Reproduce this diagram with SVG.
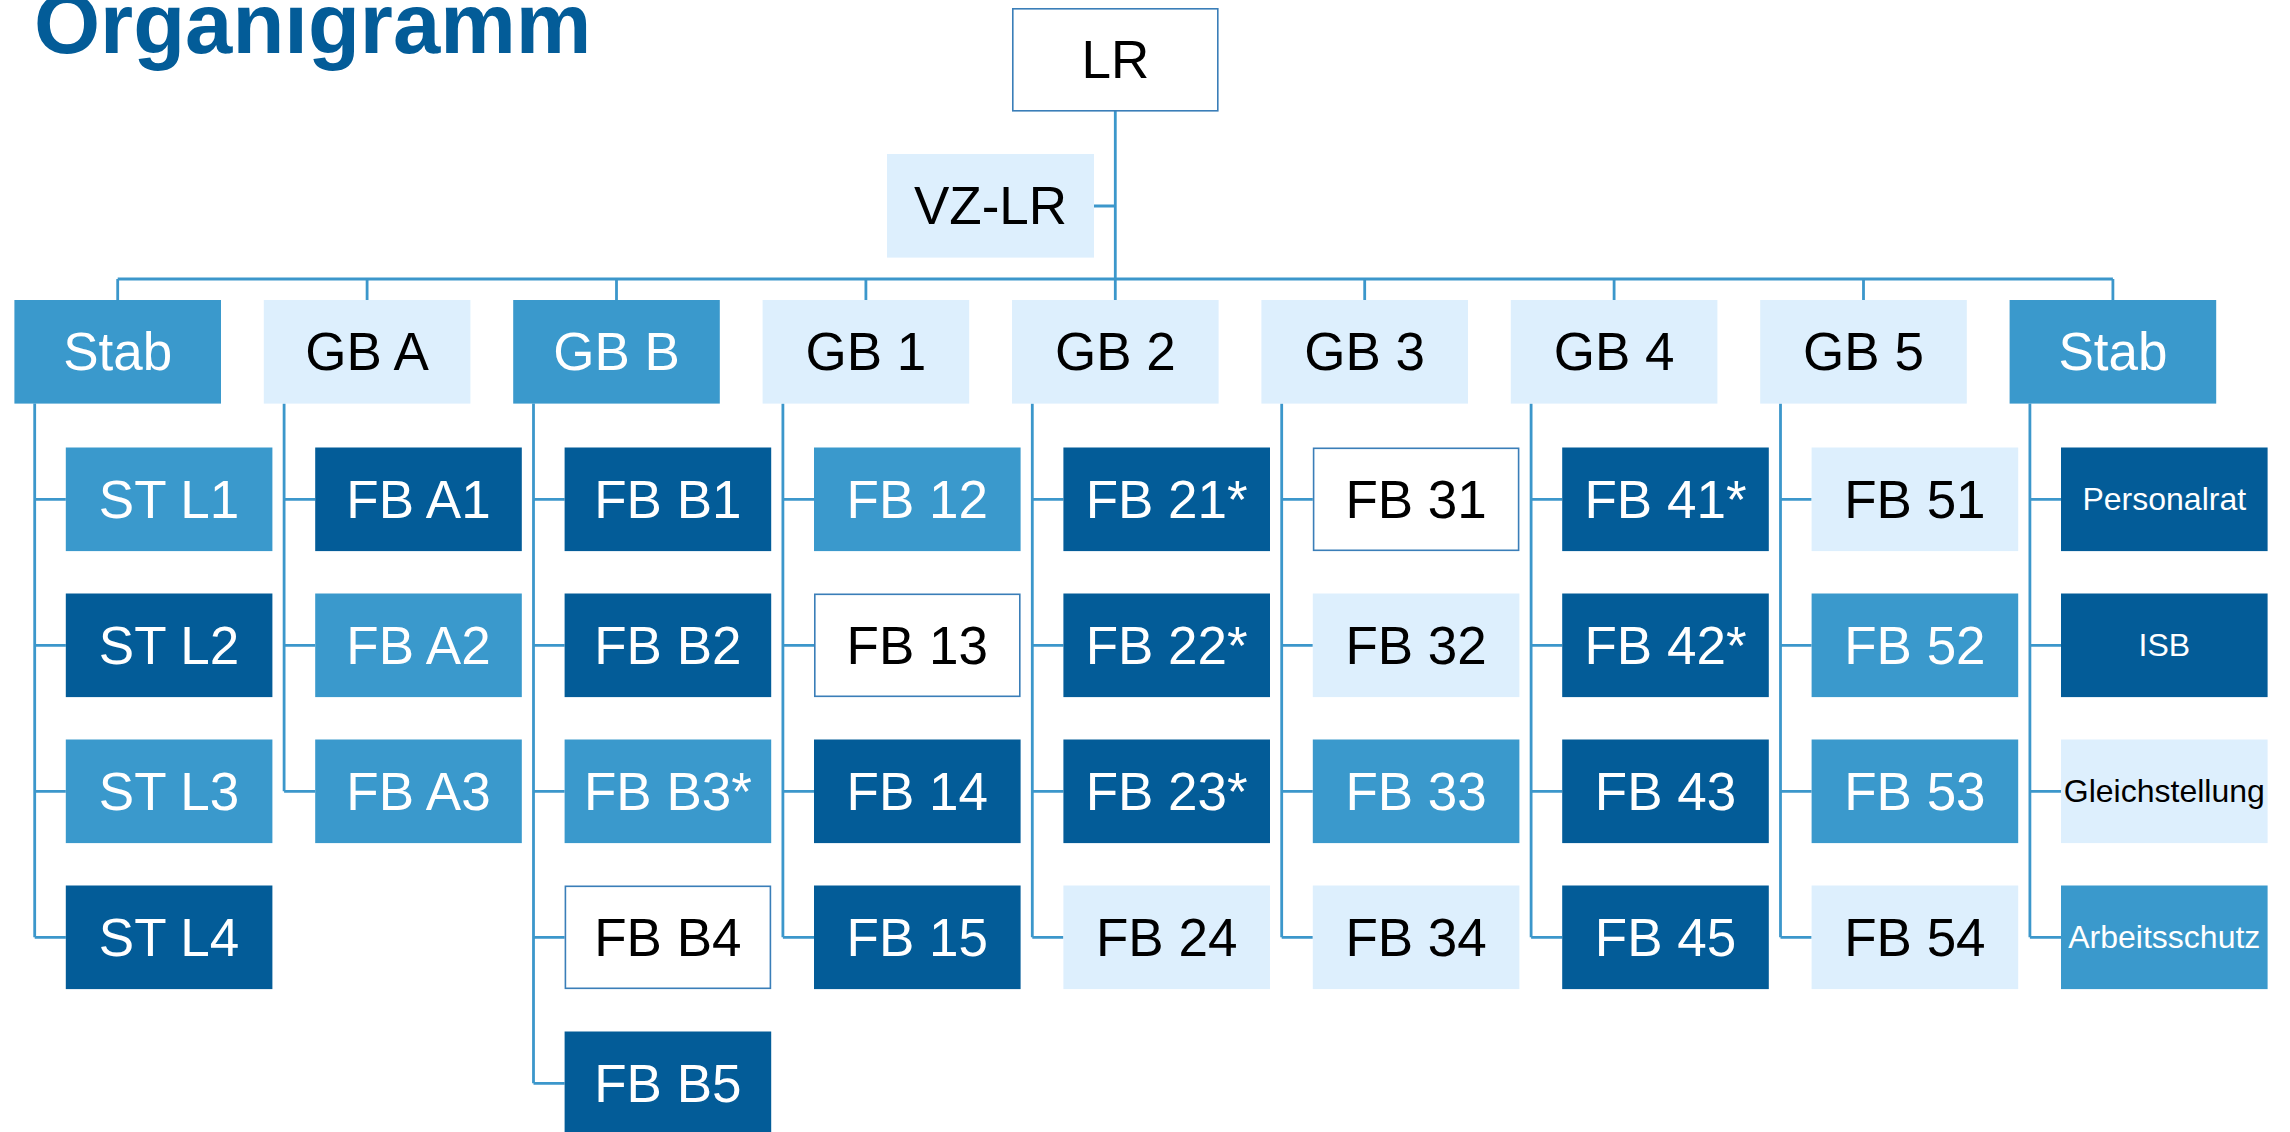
<svg xmlns="http://www.w3.org/2000/svg" width="2290" height="1132" viewBox="0 0 2290 1132">
<style>
.dk{fill:#035C98}
.md{fill:#3A99CC}
.lt{fill:#DDEFFD}
.wh{fill:#FFFFFF;stroke:#3A7EB8;stroke-width:1.6}
text{font-family:"Liberation Sans",Arial,sans-serif;text-anchor:middle}
.t{font-size:53px}
.s{font-size:32px}
.w{fill:#FFFFFF}
.b{fill:#000000}
.con path{fill:none;stroke:#3C97CB;stroke-width:2.8}
.title{font-size:85px;font-weight:bold;fill:#035C98;text-anchor:start}
</style>
<text class="title" x="34" y="53">Organigramm</text>
<g class="con">
<path d="M1115.3 111 V279 M1094 206 H1115.3"/>
<path d="M117.7 279 H2112.9 M117.7 279 V300 M367.1 279 V300 M616.5 279 V300 M865.9 279 V300 M1115.3 279 V300 M1364.7 279 V300 M1614.1 279 V300 M1863.5 279 V300 M2112.9 279 V300"/>
<path d="M34.7 403.6 V937.3 M34.7 499.3 H65.8 M34.7 645.3 H65.8 M34.7 791.3 H65.8 M34.7 937.3 H65.8"/>
<path d="M284.1 403.6 V791.3 M284.1 499.3 H315.2 M284.1 645.3 H315.2 M284.1 791.3 H315.2"/>
<path d="M533.5 403.6 V1083.3 M533.5 499.3 H564.6 M533.5 645.3 H564.6 M533.5 791.3 H564.6 M533.5 937.3 H564.6 M533.5 1083.3 H564.6"/>
<path d="M782.9 403.6 V937.3 M782.9 499.3 H814 M782.9 645.3 H814 M782.9 791.3 H814 M782.9 937.3 H814"/>
<path d="M1032.3 403.6 V937.3 M1032.3 499.3 H1063.4 M1032.3 645.3 H1063.4 M1032.3 791.3 H1063.4 M1032.3 937.3 H1063.4"/>
<path d="M1281.7 403.6 V937.3 M1281.7 499.3 H1312.8 M1281.7 645.3 H1312.8 M1281.7 791.3 H1312.8 M1281.7 937.3 H1312.8"/>
<path d="M1531.1 403.6 V937.3 M1531.1 499.3 H1562.2 M1531.1 645.3 H1562.2 M1531.1 791.3 H1562.2 M1531.1 937.3 H1562.2"/>
<path d="M1780.5 403.6 V937.3 M1780.5 499.3 H1811.6 M1780.5 645.3 H1811.6 M1780.5 791.3 H1811.6 M1780.5 937.3 H1811.6"/>
<path d="M2029.9 403.6 V937.3 M2029.9 499.3 H2061 M2029.9 645.3 H2061 M2029.9 791.3 H2061 M2029.9 937.3 H2061"/>
</g>
<g id="LR"><rect class="wh" x="1012.8" y="8.8" width="205" height="102"/><text class="t b" x="1115.3" y="78">LR</text></g>
<g id="VZ-LR"><rect class="lt" x="887" y="154" width="207" height="103.6"/><text class="t b" x="990.5" y="224">VZ-LR</text></g>

<g id="Stab1"><rect class="md" x="14.4" y="300" width="206.6" height="103.6"/><text class="t w" x="117.7" y="370">Stab</text></g>
<g id="GBA"><rect class="lt" x="263.8" y="300" width="206.6" height="103.6"/><text class="t b" x="367.1" y="370">GB A</text></g>
<g id="GBB"><rect class="md" x="513.2" y="300" width="206.6" height="103.6"/><text class="t w" x="616.5" y="370">GB B</text></g>
<g id="GB1"><rect class="lt" x="762.6" y="300" width="206.6" height="103.6"/><text class="t b" x="865.9" y="370">GB 1</text></g>
<g id="GB2"><rect class="lt" x="1012" y="300" width="206.6" height="103.6"/><text class="t b" x="1115.3" y="370">GB 2</text></g>
<g id="GB3"><rect class="lt" x="1261.4" y="300" width="206.6" height="103.6"/><text class="t b" x="1364.7" y="370">GB 3</text></g>
<g id="GB4"><rect class="lt" x="1510.8" y="300" width="206.6" height="103.6"/><text class="t b" x="1614.1" y="370">GB 4</text></g>
<g id="GB5"><rect class="lt" x="1760.2" y="300" width="206.6" height="103.6"/><text class="t b" x="1863.5" y="370">GB 5</text></g>
<g id="Stab2"><rect class="md" x="2009.6" y="300" width="206.6" height="103.6"/><text class="t w" x="2112.9" y="370">Stab</text></g>

<g id="STL1"><rect class="md" x="65.8" y="447.5" width="206.6" height="103.6"/><text class="t w" x="169.1" y="517.5">ST L1</text></g>
<g id="STL2"><rect class="dk" x="65.8" y="593.5" width="206.6" height="103.6"/><text class="t w" x="169.1" y="663.5">ST L2</text></g>
<g id="STL3"><rect class="md" x="65.8" y="739.5" width="206.6" height="103.6"/><text class="t w" x="169.1" y="809.5">ST L3</text></g>
<g id="STL4"><rect class="dk" x="65.8" y="885.5" width="206.6" height="103.6"/><text class="t w" x="169.1" y="955.5">ST L4</text></g>

<g id="FBA1"><rect class="dk" x="315.2" y="447.5" width="206.6" height="103.6"/><text class="t w" x="418.5" y="517.5">FB A1</text></g>
<g id="FBA2"><rect class="md" x="315.2" y="593.5" width="206.6" height="103.6"/><text class="t w" x="418.5" y="663.5">FB A2</text></g>
<g id="FBA3"><rect class="md" x="315.2" y="739.5" width="206.6" height="103.6"/><text class="t w" x="418.5" y="809.5">FB A3</text></g>

<g id="FBB1"><rect class="dk" x="564.6" y="447.5" width="206.6" height="103.6"/><text class="t w" x="667.9" y="517.5">FB B1</text></g>
<g id="FBB2"><rect class="dk" x="564.6" y="593.5" width="206.6" height="103.6"/><text class="t w" x="667.9" y="663.5">FB B2</text></g>
<g id="FBB3"><rect class="md" x="564.6" y="739.5" width="206.6" height="103.6"/><text class="t w" x="667.9" y="809.5">FB B3*</text></g>
<g id="FBB4"><rect class="wh" x="565.4" y="886.3" width="205" height="102"/><text class="t b" x="667.9" y="955.5">FB B4</text></g>
<g id="FBB5"><rect class="dk" x="564.6" y="1031.5" width="206.6" height="103.6"/><text class="t w" x="667.9" y="1101.5">FB B5</text></g>

<g id="FB12"><rect class="md" x="814" y="447.5" width="206.6" height="103.6"/><text class="t w" x="917.3" y="517.5">FB 12</text></g>
<g id="FB13"><rect class="wh" x="814.8" y="594.3" width="205" height="102"/><text class="t b" x="917.3" y="663.5">FB 13</text></g>
<g id="FB14"><rect class="dk" x="814" y="739.5" width="206.6" height="103.6"/><text class="t w" x="917.3" y="809.5">FB 14</text></g>
<g id="FB15"><rect class="dk" x="814" y="885.5" width="206.6" height="103.6"/><text class="t w" x="917.3" y="955.5">FB 15</text></g>

<g id="FB21"><rect class="dk" x="1063.4" y="447.5" width="206.6" height="103.6"/><text class="t w" x="1166.7" y="517.5">FB 21*</text></g>
<g id="FB22"><rect class="dk" x="1063.4" y="593.5" width="206.6" height="103.6"/><text class="t w" x="1166.7" y="663.5">FB 22*</text></g>
<g id="FB23"><rect class="dk" x="1063.4" y="739.5" width="206.6" height="103.6"/><text class="t w" x="1166.7" y="809.5">FB 23*</text></g>
<g id="FB24"><rect class="lt" x="1063.4" y="885.5" width="206.6" height="103.6"/><text class="t b" x="1166.7" y="955.5">FB 24</text></g>

<g id="FB31"><rect class="wh" x="1313.6" y="448.3" width="205" height="102"/><text class="t b" x="1416.1" y="517.5">FB 31</text></g>
<g id="FB32"><rect class="lt" x="1312.8" y="593.5" width="206.6" height="103.6"/><text class="t b" x="1416.1" y="663.5">FB 32</text></g>
<g id="FB33"><rect class="md" x="1312.8" y="739.5" width="206.6" height="103.6"/><text class="t w" x="1416.1" y="809.5">FB 33</text></g>
<g id="FB34"><rect class="lt" x="1312.8" y="885.5" width="206.6" height="103.6"/><text class="t b" x="1416.1" y="955.5">FB 34</text></g>

<g id="FB41"><rect class="dk" x="1562.2" y="447.5" width="206.6" height="103.6"/><text class="t w" x="1665.5" y="517.5">FB 41*</text></g>
<g id="FB42"><rect class="dk" x="1562.2" y="593.5" width="206.6" height="103.6"/><text class="t w" x="1665.5" y="663.5">FB 42*</text></g>
<g id="FB43"><rect class="dk" x="1562.2" y="739.5" width="206.6" height="103.6"/><text class="t w" x="1665.5" y="809.5">FB 43</text></g>
<g id="FB45"><rect class="dk" x="1562.2" y="885.5" width="206.6" height="103.6"/><text class="t w" x="1665.5" y="955.5">FB 45</text></g>

<g id="FB51"><rect class="lt" x="1811.6" y="447.5" width="206.6" height="103.6"/><text class="t b" x="1914.9" y="517.5">FB 51</text></g>
<g id="FB52"><rect class="md" x="1811.6" y="593.5" width="206.6" height="103.6"/><text class="t w" x="1914.9" y="663.5">FB 52</text></g>
<g id="FB53"><rect class="md" x="1811.6" y="739.5" width="206.6" height="103.6"/><text class="t w" x="1914.9" y="809.5">FB 53</text></g>
<g id="FB54"><rect class="lt" x="1811.6" y="885.5" width="206.6" height="103.6"/><text class="t b" x="1914.9" y="955.5">FB 54</text></g>

<g id="Personalrat"><rect class="dk" x="2061" y="447.5" width="206.6" height="103.6"/><text class="s w" x="2164.3" y="510">Personalrat</text></g>
<g id="ISB"><rect class="dk" x="2061" y="593.5" width="206.6" height="103.6"/><text class="s w" x="2164.3" y="656">ISB</text></g>
<g id="Gleichstellung"><rect class="lt" x="2061" y="739.5" width="206.6" height="103.6"/><text class="s b" x="2164.3" y="802">Gleichstellung</text></g>
<g id="Arbeitsschutz"><rect class="md" x="2061" y="885.5" width="206.6" height="103.6"/><text class="s w" x="2164.3" y="948">Arbeitsschutz</text></g>
</svg>
